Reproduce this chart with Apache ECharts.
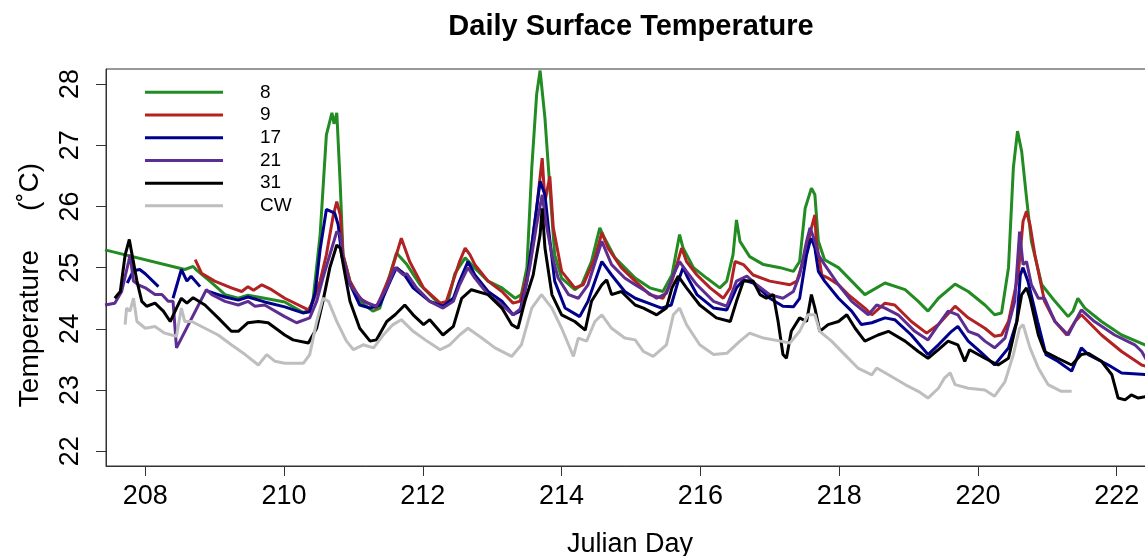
<!DOCTYPE html>
<html><head><meta charset="utf-8">
<script src="https://cdn.jsdelivr.net/npm/echarts@6/dist/echarts.min.js"></script>
<style>html,body{margin:0;padding:0;background:#fff}#c{width:1145px;height:556px}</style>
</head><body><div id="c"></div>
<script>
const xTicks = [208, 210, 212, 214, 216, 218, 220, 222];
const yTicks = [22, 23, 24, 25, 26, 27, 28];
const seriesNames = ['8', '9', '17', '21', '31', 'CW'];
const seriesColors = ['#228B22', '#B22222', '#00008B', '#5E2D91', '#000000', '#BEBEBE'];

const s8 = [[207.42,25.29],[208.57,24.97],[208.69,25.02],[208.74,24.96],[208.96,24.75],[209.15,24.56],[209.34,24.50],[209.48,24.55],[209.72,24.50],[210.01,24.44],[210.27,24.27],[210.37,24.30],[210.42,24.50],[210.52,25.54],[210.61,27.17],[210.69,27.53],[210.72,27.35],[210.76,27.53],[210.81,26.35],[210.85,25.21],[210.95,24.78],[211.09,24.45],[211.28,24.29],[211.38,24.34],[211.62,25.24],[211.77,25.05],[211.96,24.72],[212.25,24.39],[212.35,24.39],[212.46,24.90],[212.61,25.16],[212.75,24.99],[212.94,24.78],[213.14,24.67],[213.33,24.50],[213.42,24.56],[213.50,25.00],[213.57,26.63],[213.64,27.83],[213.69,28.22],[213.76,27.44],[213.81,26.63],[213.90,25.21],[214.00,24.83],[214.19,24.64],[214.29,24.72],[214.43,25.10],[214.55,25.65],[214.62,25.48],[214.77,25.16],[215.06,24.83],[215.27,24.67],[215.46,24.61],[215.59,24.88],[215.70,25.54],[215.75,25.32],[215.90,25.00],[216.09,24.83],[216.28,24.67],[216.38,24.78],[216.47,25.21],[216.52,25.78],[216.57,25.43],[216.71,25.18],[216.91,25.05],[217.15,25.00],[217.34,24.94],[217.43,25.10],[217.51,25.97],[217.60,26.30],[217.65,26.19],[217.70,25.43],[217.79,25.13],[217.99,25.00],[218.18,24.78],[218.37,24.56],[218.66,24.75],[218.95,24.64],[219.14,24.45],[219.28,24.29],[219.43,24.50],[219.67,24.73],[219.86,24.61],[220.10,24.39],[220.24,24.23],[220.34,24.26],[220.44,25.00],[220.51,26.63],[220.57,27.23],[220.63,26.90],[220.70,26.14],[220.77,25.43],[220.92,24.72],[221.11,24.45],[221.30,24.20],[221.37,24.29],[221.44,24.50],[221.54,24.34],[221.78,24.12],[222.07,23.90],[222.45,23.72]];

const s9 = [[208.72,25.13],[208.81,24.91],[209.00,24.78],[209.24,24.67],[209.39,24.61],[209.48,24.69],[209.56,24.63],[209.68,24.72],[209.82,24.64],[210.01,24.50],[210.35,24.31],[210.42,24.45],[210.52,24.78],[210.61,25.21],[210.71,25.86],[210.76,26.08],[210.81,25.86],[210.85,25.21],[210.95,24.78],[211.09,24.50],[211.33,24.34],[211.53,24.88],[211.69,25.48],[211.81,25.10],[212.01,24.67],[212.25,24.42],[212.34,24.45],[212.53,25.10],[212.61,25.32],[212.68,25.21],[212.75,25.05],[212.94,24.78],[213.14,24.61],[213.30,24.42],[213.40,24.45],[213.52,24.94],[213.64,25.97],[213.72,26.79],[213.76,26.08],[213.83,26.49],[213.88,25.65],[214.00,24.94],[214.19,24.67],[214.31,24.72],[214.48,25.16],[214.58,25.57],[214.67,25.32],[214.86,25.00],[215.06,24.78],[215.27,24.56],[215.46,24.50],[215.59,24.78],[215.73,25.32],[215.80,25.10],[215.95,24.88],[216.14,24.67],[216.33,24.50],[216.43,24.67],[216.50,25.10],[216.62,25.05],[216.76,24.88],[217.00,24.78],[217.29,24.72],[217.39,24.78],[217.48,25.10],[217.58,25.54],[217.60,25.65],[217.65,25.86],[217.67,25.43],[217.75,24.88],[217.84,24.83],[217.99,24.72],[218.13,24.56],[218.37,24.34],[218.47,24.23],[218.66,24.42],[218.80,24.39],[219.04,24.12],[219.26,23.93],[219.43,24.07],[219.67,24.37],[219.86,24.18],[220.10,24.01],[220.24,23.88],[220.34,23.90],[220.44,24.12],[220.58,24.88],[220.65,25.76],[220.70,25.92],[220.75,25.70],[220.82,25.21],[220.96,24.45],[221.11,24.12],[221.28,23.90],[221.40,24.12],[221.49,24.23],[221.78,23.90],[222.07,23.63],[222.36,23.41],[222.45,23.38]];

const s17 = [[207.74,24.75],[207.83,24.95],[207.92,24.97],[208.00,24.90],[208.19,24.69],[208.20,null],[208.40,24.50],[208.52,24.97],[208.60,24.78],[208.66,24.86],[208.79,24.69],[208.84,null],[208.89,24.62],[209.15,24.52],[209.34,24.47],[209.48,24.52],[209.72,24.44],[210.01,24.36],[210.27,24.26],[210.37,24.28],[210.45,24.60],[210.52,25.30],[210.61,25.95],[210.73,25.89],[210.78,25.70],[210.83,25.21],[210.93,24.78],[211.09,24.39],[211.24,24.34],[211.38,24.39],[211.53,24.78],[211.62,25.00],[211.72,24.91],[211.86,24.67],[212.10,24.45],[212.29,24.37],[212.44,24.50],[212.53,24.78],[212.65,25.10],[212.75,24.88],[212.94,24.61],[213.14,24.45],[213.30,24.23],[213.40,24.29],[213.50,24.78],[213.59,25.54],[213.69,26.41],[213.76,26.19],[213.81,25.65],[213.90,24.78],[214.05,24.34],[214.26,24.20],[214.38,24.45],[214.58,25.10],[214.72,24.88],[214.91,24.61],[215.06,24.50],[215.25,24.42],[215.44,24.34],[215.58,24.39],[215.68,24.78],[215.75,25.00],[215.82,24.83],[215.95,24.56],[216.19,24.34],[216.38,24.31],[216.52,24.67],[216.62,24.80],[216.76,24.75],[217.00,24.50],[217.19,24.37],[217.34,24.36],[217.43,24.50],[217.53,25.21],[217.58,25.43],[217.60,25.48],[217.65,25.32],[217.70,24.94],[217.79,24.78],[217.99,24.50],[218.18,24.29],[218.32,24.07],[218.47,24.10],[218.66,24.18],[218.80,24.15],[219.04,23.90],[219.28,23.58],[219.43,23.74],[219.62,23.96],[219.71,24.04],[219.86,23.80],[220.04,23.62],[220.24,23.41],[220.44,23.69],[220.56,24.12],[220.61,24.88],[220.65,25.00],[220.72,24.78],[220.86,24.12],[220.98,23.58],[221.15,23.47],[221.35,23.31],[221.49,23.69],[221.59,23.58],[221.88,23.41],[222.07,23.28],[222.45,23.25]];

const s21 = [[207.42,24.39],[207.56,24.42],[207.66,24.61],[207.76,25.10],[207.78,25.21],[207.83,24.78],[207.90,24.72],[208.00,24.67],[208.14,24.56],[208.24,24.56],[208.33,24.45],[208.40,24.45],[208.45,23.69],[208.88,24.64],[208.96,24.56],[209.15,24.45],[209.34,24.39],[209.48,24.45],[209.58,24.37],[209.72,24.39],[210.01,24.20],[210.18,24.10],[210.37,24.18],[210.47,24.45],[210.56,24.83],[210.66,25.21],[210.76,25.59],[210.81,25.54],[210.85,25.16],[210.95,24.72],[211.14,24.45],[211.33,24.37],[211.48,24.67],[211.60,25.00],[211.72,24.88],[211.77,24.90],[211.91,24.67],[212.10,24.45],[212.29,24.34],[212.44,24.45],[212.53,24.72],[212.65,25.00],[212.75,24.83],[212.94,24.56],[213.14,24.39],[213.30,24.23],[213.42,24.34],[213.54,25.00],[213.64,25.70],[213.72,26.19],[213.78,25.70],[213.86,25.21],[213.95,24.83],[214.10,24.56],[214.24,24.50],[214.38,24.72],[214.58,25.43],[214.72,25.05],[214.91,24.83],[215.06,24.72],[215.22,24.61],[215.37,24.50],[215.51,24.58],[215.61,24.88],[215.70,25.10],[215.80,24.94],[215.95,24.72],[216.19,24.45],[216.38,24.37],[216.52,24.78],[216.67,24.86],[216.81,24.72],[217.00,24.56],[217.19,24.50],[217.34,24.61],[217.43,24.88],[217.53,25.43],[217.58,25.65],[217.60,25.59],[217.65,25.43],[217.70,25.21],[217.79,25.05],[217.99,24.72],[218.18,24.45],[218.42,24.23],[218.54,24.39],[218.66,24.34],[218.85,24.23],[219.09,23.96],[219.28,23.82],[219.43,24.07],[219.57,24.29],[219.71,24.23],[219.86,23.96],[220.00,23.90],[220.10,23.80],[220.24,23.69],[220.39,23.85],[220.53,24.45],[220.60,25.59],[220.65,25.05],[220.70,25.10],[220.77,24.72],[220.87,24.50],[220.96,24.50],[221.11,24.12],[221.30,23.90],[221.40,24.12],[221.49,24.31],[221.68,24.12],[221.97,23.90],[222.26,23.74],[222.36,23.63],[222.45,23.45]];

const s31 = [[207.56,24.50],[207.64,24.61],[207.71,25.21],[207.77,25.46],[207.80,25.27],[207.88,24.78],[207.95,24.45],[208.02,24.37],[208.14,24.42],[208.26,24.29],[208.36,24.12],[208.45,24.34],[208.52,24.50],[208.60,24.42],[208.69,24.51],[208.86,24.39],[209.05,24.18],[209.24,23.96],[209.34,23.96],[209.48,24.10],[209.63,24.12],[209.77,24.10],[210.01,23.90],[210.13,23.82],[210.35,23.77],[210.47,24.01],[210.56,24.45],[210.66,25.00],[210.76,25.37],[210.81,25.32],[210.88,24.88],[210.95,24.45],[211.09,24.01],[211.24,23.80],[211.33,23.82],[211.48,24.12],[211.60,24.23],[211.74,24.39],[211.86,24.23],[212.01,24.07],[212.10,24.15],[212.29,23.90],[212.44,24.04],[212.56,24.50],[212.70,24.64],[212.94,24.56],[213.14,24.34],[213.28,24.07],[213.37,24.01],[213.47,24.45],[213.59,24.88],[213.69,25.54],[213.72,25.97],[213.76,25.32],[213.86,24.56],[214.00,24.23],[214.19,24.12],[214.34,23.98],[214.43,24.45],[214.58,24.72],[214.65,24.80],[214.72,24.56],[214.86,24.61],[215.06,24.39],[215.18,24.34],[215.37,24.23],[215.51,24.34],[215.59,24.67],[215.68,24.86],[215.80,24.67],[215.99,24.39],[216.23,24.18],[216.43,24.12],[216.52,24.45],[216.62,24.78],[216.76,24.78],[216.86,24.56],[216.95,24.50],[217.05,24.56],[217.12,24.12],[217.19,23.58],[217.24,23.52],[217.31,23.96],[217.43,24.18],[217.53,24.12],[217.60,24.56],[217.65,24.34],[217.72,23.96],[217.84,24.07],[217.99,24.12],[218.11,24.23],[218.23,24.01],[218.37,23.80],[218.56,23.90],[218.71,23.96],[218.95,23.80],[219.14,23.63],[219.28,23.52],[219.43,23.66],[219.57,23.80],[219.71,23.74],[219.81,23.47],[219.88,23.66],[220.10,23.52],[220.29,23.41],[220.44,23.52],[220.56,24.12],[220.63,24.56],[220.70,24.67],[220.75,24.50],[220.87,23.90],[220.96,23.63],[221.15,23.52],[221.35,23.41],[221.49,23.58],[221.59,23.60],[221.78,23.47],[221.93,23.25],[222.02,22.87],[222.12,22.84],[222.21,22.92],[222.31,22.87],[222.45,22.90]];

const sCW = [[207.71,24.07],[207.73,24.34],[207.78,24.29],[207.83,24.50],[207.88,24.12],[208.00,24.01],[208.14,24.04],[208.28,23.93],[208.38,23.90],[208.45,23.88],[208.52,24.34],[208.57,24.12],[208.67,24.12],[208.86,24.01],[209.05,23.90],[209.24,23.74],[209.44,23.58],[209.63,23.41],[209.75,23.58],[209.87,23.47],[210.01,23.44],[210.28,23.44],[210.37,23.58],[210.47,24.12],[210.56,24.50],[210.64,24.45],[210.76,24.12],[210.90,23.80],[211.00,23.66],[211.14,23.74],[211.29,23.69],[211.43,23.90],[211.57,24.07],[211.69,24.15],[211.86,23.96],[212.06,23.80],[212.25,23.66],[212.39,23.74],[212.53,23.90],[212.65,24.01],[212.85,23.85],[213.04,23.69],[213.28,23.55],[213.42,23.74],[213.57,24.34],[213.71,24.56],[213.86,24.34],[214.00,24.01],[214.10,23.74],[214.17,23.55],[214.24,23.85],[214.36,23.80],[214.48,24.12],[214.58,24.23],[214.72,24.01],[214.91,23.85],[215.06,23.82],[215.18,23.63],[215.32,23.55],[215.51,23.74],[215.61,24.23],[215.70,24.34],[215.80,24.07],[215.99,23.74],[216.19,23.58],[216.38,23.60],[216.57,23.80],[216.71,23.93],[216.91,23.85],[217.15,23.80],[217.29,23.77],[217.43,23.96],[217.55,24.23],[217.65,24.23],[217.72,23.96],[217.89,23.80],[218.08,23.58],[218.27,23.36],[218.47,23.25],[218.54,23.36],[218.71,23.25],[218.95,23.09],[219.14,22.98],[219.28,22.87],[219.43,23.03],[219.52,23.20],[219.60,23.28],[219.67,23.09],[219.86,23.03],[220.10,23.00],[220.24,22.90],[220.39,23.14],[220.51,23.58],[220.60,24.01],[220.65,24.07],[220.75,23.69],[220.87,23.36],[221.01,23.09],[221.20,22.98],[221.35,22.98]];

const seriesData = [s8, s9, s17, s21, s31, sCW];

const FONT = '"Liberation Sans", Arial, sans-serif';
const chart = echarts.init(document.getElementById('c'), null, {renderer: 'canvas'});

const option = {
  animation: false,
  backgroundColor: '#ffffff',
  title: {
    text: 'Daily Surface Temperature',
    left: 626, top: 7, textAlign: 'center',
    textStyle: {fontFamily: FONT, fontSize: 29, fontWeight: 'bold', color: '#000'}
  },
  legend: {
    orient: 'vertical', left: 145, top: 81, padding: 0, itemGap: 0,
    icon: 'rect', itemWidth: 78, itemHeight: 3,
    data: seriesNames,
    textStyle: {fontFamily: FONT, fontSize: 19, color: '#000', lineHeight: 22.7, padding: [0, 0, 0, 32]}
  },
  grid: {left: 106, top: 69, right: -9, bottom: 90, show: true, borderColor: '#333', borderWidth: 1, backgroundColor: 'transparent', containLabel: false, outerBoundsMode: 'none'},
  xAxis: {
    type: 'value', min: 207.434, max: 222.537,
    name: 'Julian Day', nameLocation: 'middle', nameGap: 65,
    nameTextStyle: {fontFamily: FONT, fontSize: 27, color: '#000'},
    axisLine: {show: true, onZero: false, lineStyle: {color: '#333', width: 1}},
    axisTick: {show: true, length: 10, inside: false, customValues: xTicks, lineStyle: {color: '#333'}},
    axisLabel: {show: true, margin: 17, customValues: xTicks, fontFamily: FONT, fontSize: 27, color: '#000', formatter: v => String(v)},
    splitLine: {show: false}
  },
  yAxis: {
    type: 'value', min: 21.76, max: 28.245,
    axisLine: {show: true, lineStyle: {color: '#333', width: 1}},
    axisTick: {show: true, length: 10, inside: false, customValues: yTicks, lineStyle: {color: '#333'}},
    axisLabel: {show: true, rotate: 90, margin: 22, customValues: yTicks, fontFamily: FONT, fontSize: 27, color: '#000', formatter: v => String(v)},
    splitLine: {show: false}
  },
  graphic: [{
    type: 'text', x: 30, y: 285, rotation: Math.PI / 2,
    style: {text: 'Temperature     (˚C)', fontFamily: FONT, fontSize: 28, fill: '#000', align: 'center', verticalAlign: 'middle'}
  }],
  series: seriesNames.map((n, i) => ({
    name: n, type: 'line', showSymbol: false, symbol: 'none', connectNulls: false,
    clip: true, z: 2 + i,
    itemStyle: {color: seriesColors[i]},
    lineStyle: {color: seriesColors[i], width: 3},
    data: seriesData[i].map(p => [p[0], p[1] === null ? '-' : p[1]])
  }))
};
chart.setOption(option);
</script>
</body></html>
